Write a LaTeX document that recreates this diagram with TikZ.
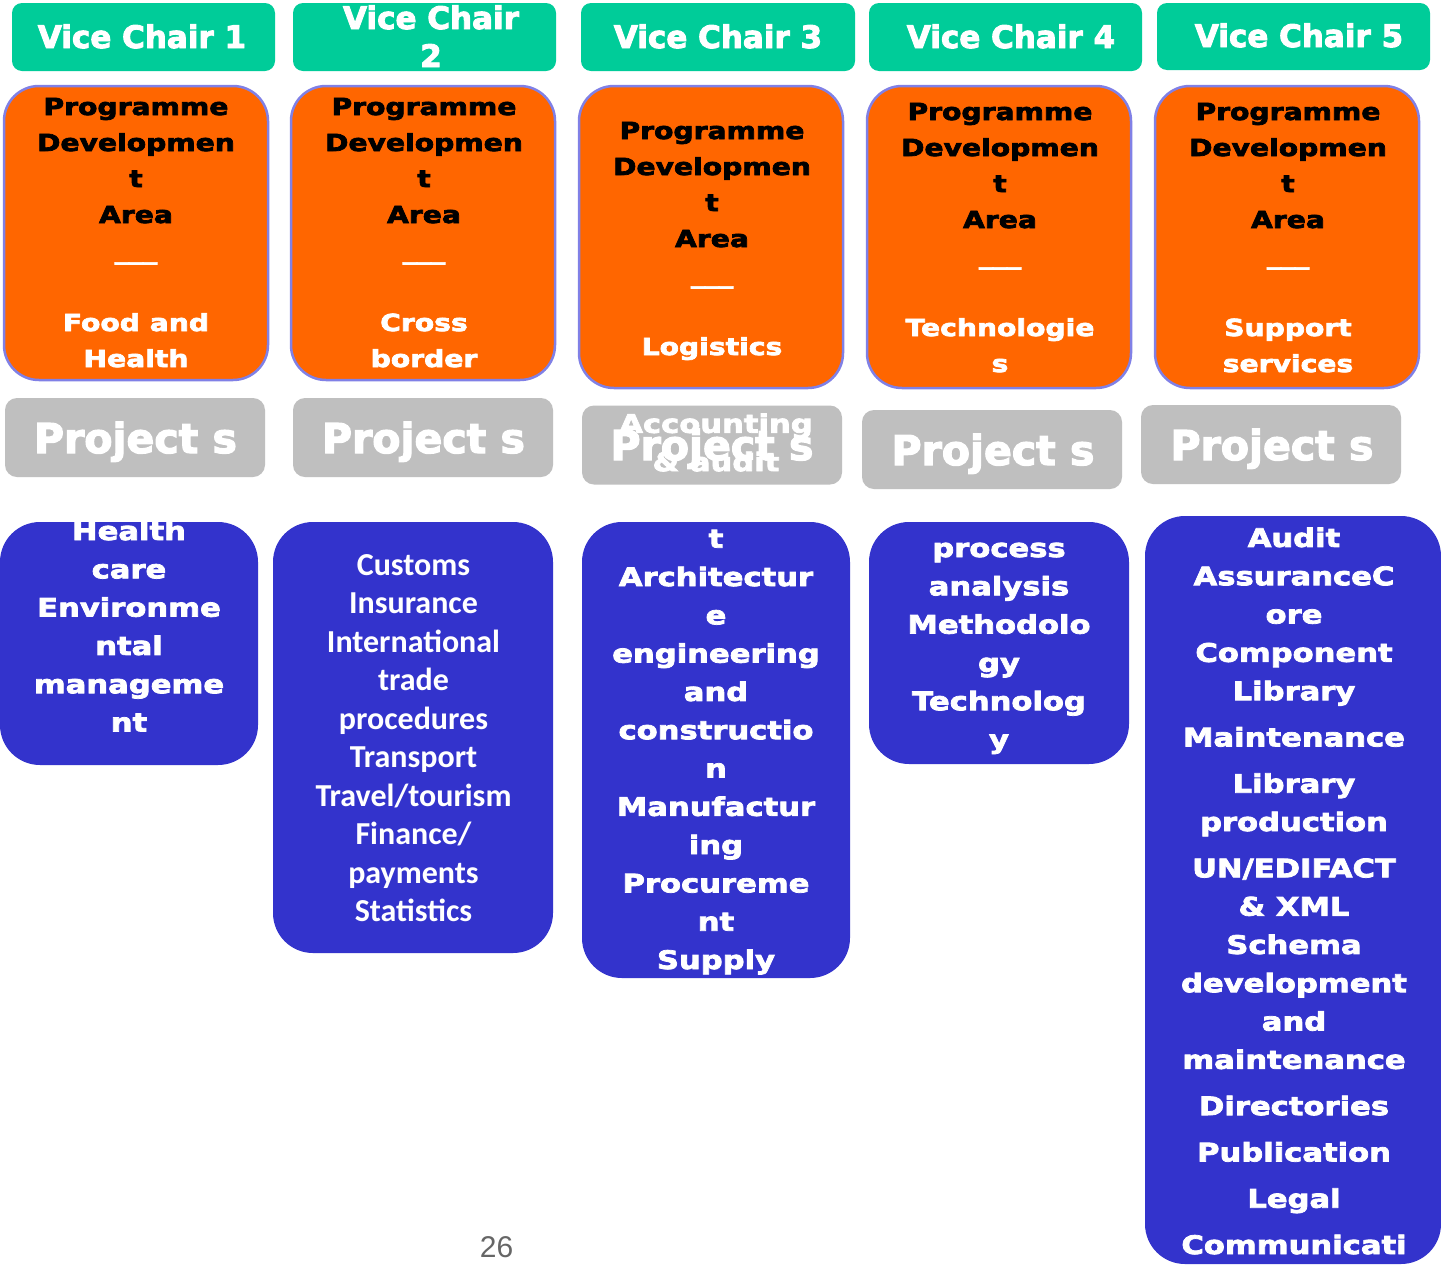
\documentclass[tikz,border=0pt]{standalone}
\usepackage{fontspec}
\usepackage{tikz}
\newfontfamily\heavyfont[FakeBold=3]{DejaVu Sans}
\newfontfamily\widefont[FakeStretch=1.2,FakeBold=3]{DejaVu Sans}
\newfontfamily\calfont{Carlito}
\newfontfamily\numfont{Liberation Sans}
\definecolor{chairgreen}{RGB}{0,204,153}
\definecolor{areaorange}{RGB}{255,102,0}
\definecolor{areaedge}{RGB}{128,128,230}
\definecolor{projgray}{RGB}{191,191,191}
\definecolor{topicblue}{RGB}{51,51,204}
\definecolor{pagegray}{RGB}{102,102,102}

\begin{document}
\begin{tikzpicture}[x=1pt,y=-1pt,inner sep=0pt,
  chair node/.style={rectangle,rounded corners=10pt,fill=chairgreen,minimum height=68pt},
  area node/.style={rectangle,rounded corners=35pt,fill=areaorange,draw=areaedge,line width=2.5pt,minimum width=264pt},
  project node/.style={rectangle,rounded corners=12pt,fill=projgray,minimum width=260pt,minimum height=79pt},
  topic node/.style={rectangle,rounded corners=40pt,fill=topicblue},
  chair text/.style={anchor=base,align=center,text=white,font=\heavyfont\bfseries\fontsize{31}{38}\selectfont},
  area text/.style={anchor=base,align=center,text=black,font=\widefont\bfseries\fontsize{23.5}{36}\selectfont},
  project text/.style={anchor=base,text=white,font=\heavyfont\bfseries\fontsize{41}{48}\selectfont},
  topic text/.style={anchor=base,align=center,text=white,font=\widefont\bfseries\fontsize{25.5}{38.3}\selectfont}]

  \useasboundingbox (0,0) rectangle (1441,1267);
  \fill[white] (0,0) rectangle (1441,1267);

  % vice chairs
  \node[chair node,minimum width=263pt] (vc1) at (143.5,37) {};
  \node[chair node,minimum width=263pt] (vc2) at (424.5,37) {};
  \node[chair node,minimum width=274pt] (vc3) at (718,37) {};
  \node[chair node,minimum width=273pt] (vc4) at (1005.5,37) {};
  \node[chair node,minimum width=273pt,minimum height=67pt] (vc5) at (1293.5,36.5) {};

  % programme development areas
  \node[area node,minimum height=294pt] (pd1) at (136,233) {};
  \node[area node,minimum height=294pt] (pd2) at (423,233) {};
  \node[area node,minimum height=302pt] (pd3) at (711,237) {};
  \node[area node,minimum height=302pt] (pd4) at (999,237) {};
  \node[area node,minimum height=302pt] (pd5) at (1287,237) {};

  % projects
  \node[project node] (pj1) at (135,437.5) {};
  \node[project node] (pj2) at (423,437.5) {};
  \node[project node] (pj3) at (712,445) {};
  \node[project node] (pj4) at (992,449.5) {};
  \node[project node] (pj5) at (1271,444.5) {};

  % topics
  \node[topic node,minimum width=258pt,minimum height=243pt] (tp1) at (129,643.5) {};
  \node[topic node,minimum width=280pt,minimum height=431pt] (tp2) at (413,737.5) {};
  \node[topic node,minimum width=268pt,minimum height=456pt] (tp3) at (716,750) {};
  \node[topic node,minimum width=260pt,minimum height=242pt] (tp4) at (999,643) {};
  \node[topic node,minimum width=296pt,minimum height=748pt] (tp5) at (1293,890) {};

  % texts (anchored at the last baseline)
  \node[chair text] (vc1 text) at (142,48) {Vice Chair 1};
  \node[chair text] (vc2 text) at (431,67) {Vice Chair\\2};
  \node[chair text] (vc3 text) at (718,48) {Vice Chair 3};
  \node[chair text] (vc4 text) at (1011,48) {Vice Chair 4};
  \node[chair text] (vc5 text) at (1299,47) {Vice Chair 5};

  \node[area text] (pd1 text) at (136,367) {Programme\\Developmen\\t\\Area\\\textcolor{white}{\_\_\_}\\[36pt]\textcolor{white}{Food and}\\\textcolor{white}{Health}};
  \node[area text] (pd2 text) at (424,367) {Programme\\Developmen\\t\\Area\\\textcolor{white}{\_\_\_}\\[36pt]\textcolor{white}{Cross}\\\textcolor{white}{border}};
  \node[area text] (pd3 text) at (712,355) {Programme\\Developmen\\t\\Area\\\textcolor{white}{\_\_\_}\\[36pt]\textcolor{white}{Logistics}};
  \node[area text] (pd4 text) at (1000,372) {Programme\\Developmen\\t\\Area\\\textcolor{white}{\_\_\_}\\[36pt]\textcolor{white}{Technologie}\\\textcolor{white}{s}};
  \node[area text] (pd5 text) at (1288,372) {Programme\\Developmen\\t\\Area\\\textcolor{white}{\_\_\_}\\[36pt]\textcolor{white}{Support}\\\textcolor{white}{services}};

  \node[project text] (pj1 text) at (135.5,453) {Project s};
  \node[project text] (pj2 text) at (423.5,453) {Project s};
  \node[project text] (pj3 text) at (712,460) {Project s};
  \node[project text] (pj4 text) at (993,465) {Project s};
  \node[project text] (pj5 text) at (1272,460) {Project s};

  \node[topic text] (tp1 text) at (129,731.5) {Health\\care\\Environme\\ntal\\manageme\\nt};
  \node[topic text,font=\calfont\bfseries\fontsize{32}{38.5}\selectfont] (tp2 text) at (413.5,921.5)
    {Customs\\Insurance\\International\\trade\\procedures\\Transport\\Travel/tourism\\Finance/\\payments\\Statistics};
  \node[topic text] (tp3 text) at (716,969) {Accounting\\\& audit\\[38.3pt]t\\Architectur\\e\\engineering\\and\\constructio\\n\\Manufactur\\ing\\Procureme\\nt\\Supply};
  \node[topic text] (tp4 text) at (999,748.5) {process\\analysis\\Methodolo\\gy\\Technolog\\y};
  \node[topic text] (tp5 text) at (1294,1254) {Audit\\AssuranceC\\ore\\Component\\Library\\[8pt]Maintenance\\[8pt]Library\\production\\[8pt]UN/EDIFACT\\\& XML\\Schema\\development\\and\\maintenance\\[8pt]Directories\\[8pt]Publication\\[8pt]Legal\\[8pt]Communicati};

  \node[anchor=base,text=pagegray,font=\numfont\fontsize{30}{36}\selectfont] (page) at (496.5,1257) {26};
\end{tikzpicture}
\end{document}
